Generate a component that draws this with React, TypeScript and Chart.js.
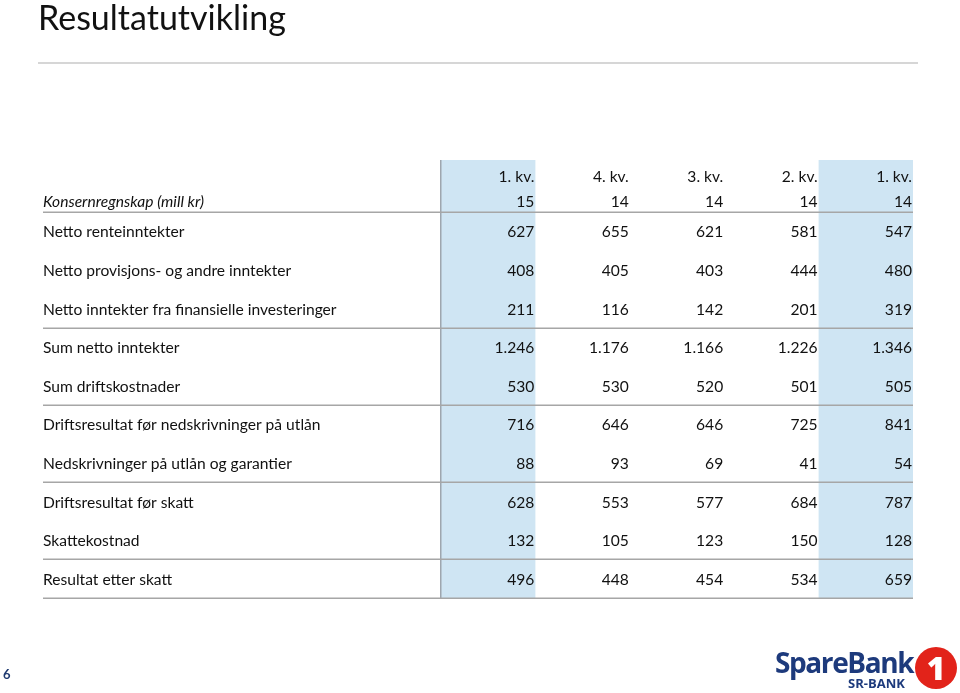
import React, { useEffect, useRef } from "react";
import { Chart, registerables } from "chart.js";

Chart.register(...registerables);

// ---- data ----
const periodLabels = ["1. kv.", "4. kv.", "3. kv.", "2. kv.", "1. kv."];
const yearLabels = ["15", "14", "14", "14", "14"];
const headerLabel = "Konsernregnskap (mill kr)";
const rowLabels = [
  "Netto renteinntekter",
  "Netto provisjons- og andre inntekter",
  "Netto inntekter fra finansielle investeringer",
  "Sum netto inntekter",
  "Sum driftskostnader",
  "Driftsresultat før nedskrivninger på utlån",
  "Nedskrivninger på utlån og garantier",
  "Driftsresultat før skatt",
  "Skattekostnad",
  "Resultat etter skatt",
];
const nettoRenteinntekter = [627, 655, 621, 581, 547];
const nettoProvisjon = [408, 405, 403, 444, 480];
const nettoFinansielle = [211, 116, 142, 201, 319];
const sumNettoInntekter = [1246, 1176, 1166, 1226, 1346];
const sumDriftskostnader = [530, 530, 520, 501, 505];
const driftsresultatForNedskr = [716, 646, 646, 725, 841];
const nedskrivninger = [88, 93, 69, 41, 54];
const driftsresultatForSkatt = [628, 553, 577, 684, 787];
const skattekostnad = [132, 105, 123, 150, 128];
const resultatEtterSkatt = [496, 448, 454, 534, 659];
const rowValues = [
  nettoRenteinntekter,
  nettoProvisjon,
  nettoFinansielle,
  sumNettoInntekter,
  sumDriftskostnader,
  driftsresultatForNedskr,
  nedskrivninger,
  driftsresultatForSkatt,
  skattekostnad,
  resultatEtterSkatt,
];
const shadedColumns = [0, 4];
const ruleRows = [0, 3, 5, 7, 9, 10];

const fmt = (n: number) => {
  const s = String(Math.abs(n));
  const out = s.replace(/\B(?=(\d{3})+(?!\d))/g, ".");
  return n < 0 ? "-" + out : out;
};

const FONT = "Lato, 'Open Sans', sans-serif";

const tablePlugin = {
  id: "tablePlugin",
  beforeDatasetsDraw(chart: any) {
    const { ctx, chartArea, scales } = chart;
    const x = scales.x;
    const y = scales.y;
    ctx.save();
    ctx.fillStyle = "#CFE5F3";
    shadedColumns.forEach((c) => {
      const x0 = x.getPixelForValue(c);
      const x1 = x.getPixelForValue(c + 1);
      ctx.fillRect(x0, chartArea.top, x1 - x0, chartArea.bottom - chartArea.top);
    });
    ctx.strokeStyle = "#9EA6AE";
    ctx.lineWidth = 1.5;
    const vx = Math.round(x.getPixelForValue(0)) - 0.25;
    ctx.beginPath();
    ctx.moveTo(vx, chartArea.top);
    ctx.lineTo(vx, chartArea.bottom);
    ctx.stroke();
    ctx.strokeStyle = "#A6A6A6";
    ctx.lineWidth = 1.5;
    ruleRows.forEach((r) => {
      const py = Math.round(y.getPixelForValue(r)) + 0.25;
      ctx.beginPath();
      ctx.moveTo(chartArea.left, py);
      ctx.lineTo(chartArea.right, py);
      ctx.stroke();
    });
    ctx.restore();
  },
  afterDatasetsDraw(chart: any) {
    const { ctx, chartArea, scales } = chart;
    const x = scales.x;
    const y = scales.y;
    ctx.save();
    ctx.fillStyle = "#111";
    ctx.textBaseline = "middle";
    const fontSize = 15.6;
    const dy = 1;
    ctx.font = `${fontSize}px ${FONT}`;
    const h1 = y.getPixelForValue(-0.933) + dy;
    const h2 = y.getPixelForValue(-0.285) + dy;
    ctx.textAlign = "right";
    periodLabels.forEach((t, c) => {
      ctx.fillText(t, x.getPixelForValue(c + 1) - 1, h1);
    });
    yearLabels.forEach((t, c) => {
      ctx.fillText(t, x.getPixelForValue(c + 1) - 1, h2);
    });
    ctx.textAlign = "left";
    ctx.font = `italic ${fontSize}px ${FONT}`;
    ctx.fillText(headerLabel, chartArea.left, h2);
    ctx.font = `${fontSize}px ${FONT}`;
    rowLabels.forEach((t, r) => {
      ctx.fillText(t, chartArea.left, y.getPixelForValue(r + 0.5) + dy);
    });
    ctx.textAlign = "right";
    rowValues.forEach((vals, r) => {
      vals.forEach((v, c) => {
        ctx.fillText(fmt(v), x.getPixelForValue(c + 1) - 1, y.getPixelForValue(r + 0.5) + dy);
      });
    });
    ctx.restore();
  },
};

export default function App() {
  const ref = useRef<HTMLCanvasElement | null>(null);
  useEffect(() => {
    if (!ref.current) return;
    const points: { x: number; y: number }[] = [];
    rowValues.forEach((vals, r) => vals.forEach((_, c) => points.push({ x: c + 1, y: r + 0.5 })));
    const chart = new Chart(ref.current, {
      type: "scatter",
      data: {
        datasets: [
          {
            data: points,
            pointRadius: 0,
            pointHoverRadius: 0,
            showLine: false,
          },
        ],
      },
      options: {
        responsive: false,
        animation: false,
        events: [],
        layout: { padding: { left: 43, right: 47, top: 160, bottom: 95 } },
        plugins: { legend: { display: false }, tooltip: { enabled: false } },
        scales: {
          x: { type: "linear", min: -4.216, max: 5, display: false },
          y: { type: "linear", min: -1.347, max: 10, reverse: true, display: false },
        },
      },
      plugins: [tablePlugin],
    });
    return () => chart.destroy();
  }, []);

  return (
    <div
      style={{
        position: "fixed",
        left: 0,
        top: 0,
        width: 960,
        height: 693,
        background: "#fff",
        fontFamily: FONT,
        overflow: "hidden",
      }}
    >
      <canvas ref={ref} width={960} height={693} style={{ position: "absolute", left: 0, top: 0 }} />
      <div
        style={{
          position: "absolute",
          left: 38,
          top: -4,
          fontSize: 34,
          lineHeight: "42px",
          color: "#111",
          whiteSpace: "nowrap",
        }}
      >
        Resultatutvikling
      </div>
      <div style={{ position: "absolute", left: 38, top: 62, width: 880, height: 2, background: "#D6D6D6" }} />
      <div
        style={{
          position: "absolute",
          left: 3,
          top: 666,
          fontSize: 13,
          fontWeight: 700,
          color: "#1F3A70",
        }}
      >
        6
      </div>
      <div
        style={{
          position: "absolute",
          left: 775,
          top: 643,
          fontSize: 28,
          fontWeight: 700,
          letterSpacing: -1.4,
          color: "#1D3A7C",
          fontFamily: "'Open Sans', sans-serif",
          lineHeight: "38px",
          whiteSpace: "nowrap",
        }}
      >
        SpareBank
      </div>
      <div
        style={{
          position: "absolute",
          left: 848,
          top: 675,
          fontSize: 13,
          fontWeight: 700,
          color: "#1D3A7C",
          fontFamily: "'Open Sans', sans-serif",
          lineHeight: "16px",
          whiteSpace: "nowrap",
        }}
      >
        SR-BANK
      </div>
      <div
        style={{
          position: "absolute",
          left: 915,
          top: 647,
          width: 42,
          height: 42,
          borderRadius: "50%",
          background: "#E2231A",
          color: "#fff",
          fontSize: 32,
          fontWeight: 800,
          lineHeight: "42px",
          textAlign: "center",
          fontFamily: "'Open Sans', sans-serif",
        }}
      >
        1
      </div>
    </div>
  );
}
